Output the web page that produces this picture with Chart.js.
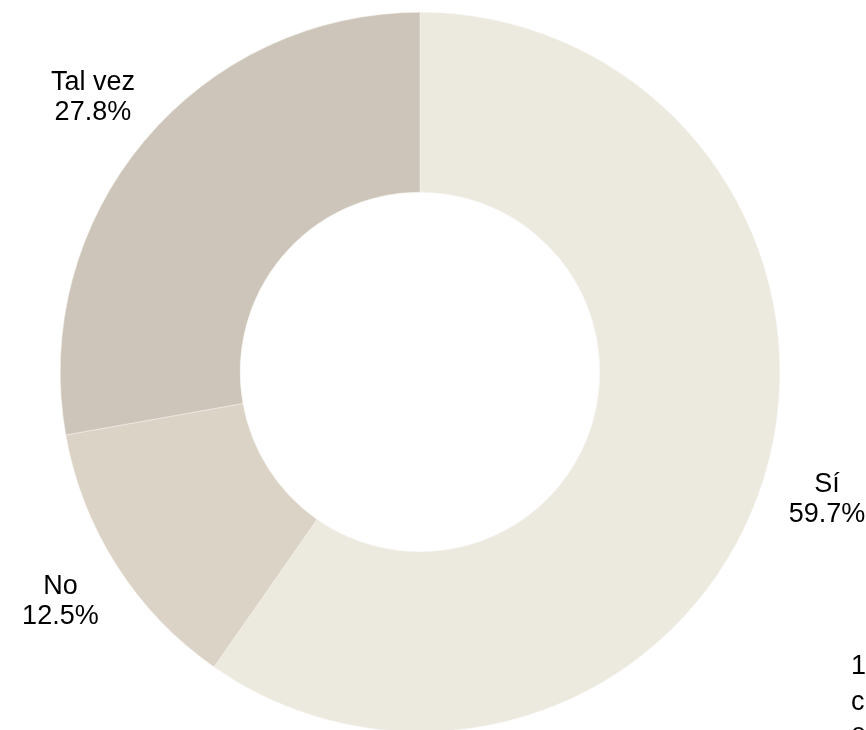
<!DOCTYPE html>
<html>
<head>
<meta charset="utf-8">
<script src="https://cdn.jsdelivr.net/npm/chart.js@4/dist/chart.umd.min.js"></script>
<style>
html,body{margin:0;padding:0;background:#fff;overflow:hidden;width:866px;height:730px;}
canvas{display:block;}
</style>
</head>
<body>
<canvas id="c" width="866" height="744" style="width:866px;height:744px"></canvas>
<script>
const categories = ["Sí", "No", "Tal vez"];
const values = [59.7, 12.5, 27.8];
const valueLabels = ["59.7%", "12.5%", "27.8%"];
const colors = ["#ECE9DF", "#DCD3C7", "#CDC5B9"];
const noteLines = ["1", "c", "e"];

const labelPlugin = {
  id: 'outerLabels',
  afterDatasetsDraw(chart) {
    const ctx = chart.ctx;
    const meta = chart.getDatasetMeta(0);
    ctx.save();
    ctx.font = '27px "Liberation Sans", Arial, sans-serif';
    ctx.fillStyle = '#000';
    ctx.textAlign = 'center';
    ctx.textBaseline = 'middle';
    meta.data.forEach((arc, i) => {
      const p = arc.getProps(['x','y','startAngle','endAngle','outerRadius'], true);
      const mid = (p.startAngle + p.endAngle) / 2;
      const r = p.outerRadius + 67;
      const x = p.x + Math.cos(mid) * r;
      const y = p.y + Math.sin(mid) * r;
      ctx.fillText(categories[i], x, y - 15);
      ctx.fillText(valueLabels[i], x, y + 15);
    });
    ctx.textAlign = 'left';
    ctx.textBaseline = 'alphabetic';
    const ys = [674, 710, 742];
    noteLines.forEach((t, i) => ctx.fillText(t, 851, ys[i]));
    ctx.restore();
  }
};

new Chart(document.getElementById('c'), {
  type: 'doughnut',
  data: {
    labels: categories,
    datasets: [{
      data: values,
      backgroundColor: colors,
      borderColor: '#f4f2ec',
      borderWidth: 0.5
    }]
  },
  options: {
    responsive: false,
    animation: false,
    cutout: '50%',
    layout: { padding: { left: 60, right: 86, top: 12, bottom: 12 } },
    plugins: { legend: { display: false }, tooltip: { enabled: false } }
  },
  plugins: [labelPlugin]
});
</script>
</body>
</html>
